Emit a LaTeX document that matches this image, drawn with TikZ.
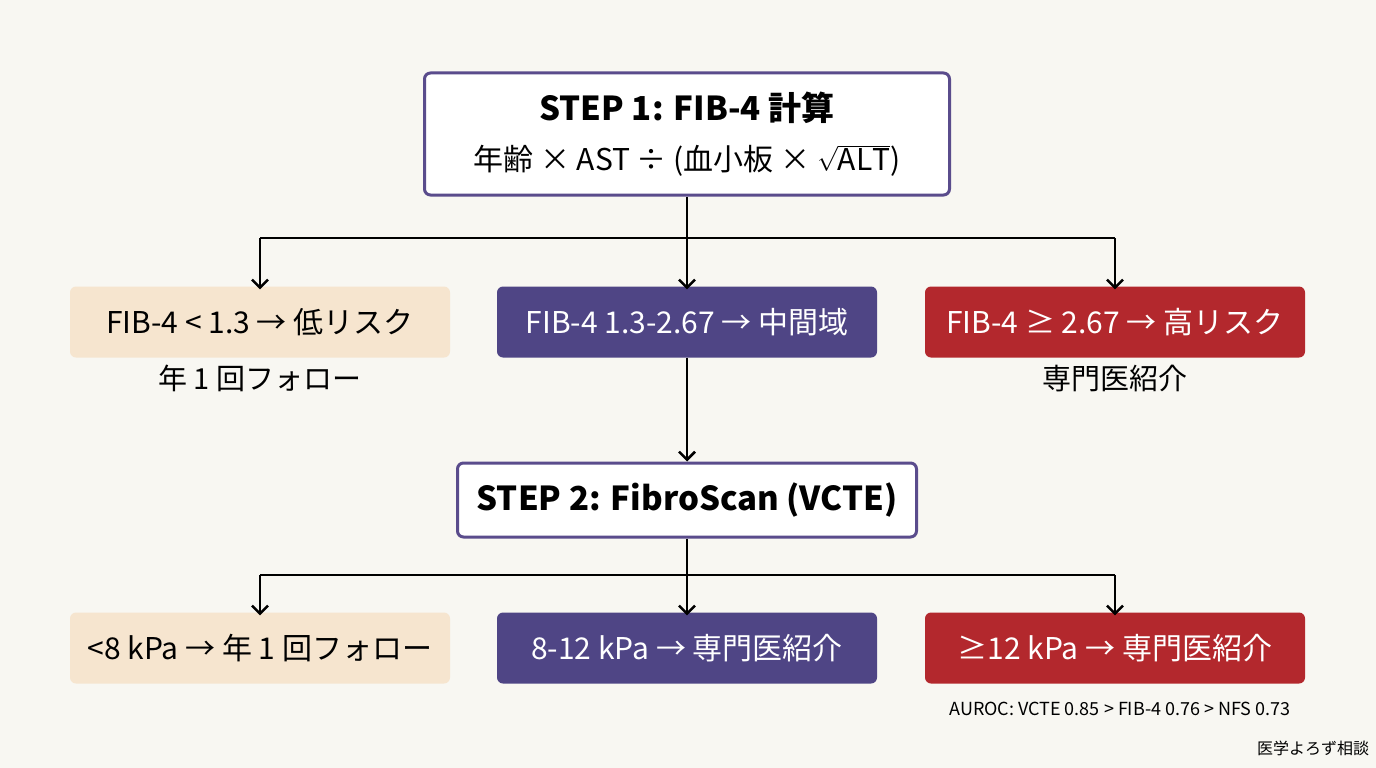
\documentclass[tikz,border=0pt]{standalone}
\usepackage{fontspec}
\setmainfont{Noto Sans CJK JP}
\usetikzlibrary{positioning,arrows.meta}
\definecolor{bgc}{HTML}{F8F7F2}
\definecolor{frame}{HTML}{5A4C8C}
\definecolor{lowc}{HTML}{F6E5CF}
\definecolor{midc}{HTML}{4F4585}
\definecolor{highc}{HTML}{B3282D}
\tikzset{
  stepbox/.style={draw=frame, line width=3pt, fill=white, rounded corners=6pt, align=center},
  res/.style={minimum width=380pt, minimum height=71pt, rounded corners=6pt, font=\fontsize{30}{34}\selectfont},
  low/.style={res, fill=lowc, text=black},
  mid/.style={res, fill=midc, text=white},
  high/.style={res, fill=highc, text=white},
  note/.style={font=\fontsize{29}{32}\selectfont},
  arr/.style={-{Straight Barb[length=8pt,width=16pt,line width=2.5pt]}, line width=2.5pt},
  ln/.style={line width=2.5pt}
}
\begin{document}
\begin{tikzpicture}[x=1pt,y=-1pt]
  \fill[bgc] (0,0) rectangle (1376,768);
  \useasboundingbox (0,0) rectangle (1376,768);

  % step 1
  \node[stepbox, minimum width=525pt, minimum height=122pt, font=\fontsize{33}{38}\selectfont] (s1) at (687,134)
    {\bfseries STEP 1: FIB-4 計算\\[12pt]
     \mdseries\fontsize{30}{34}\selectfont 年齢 × AST ÷ (血小板 × $\sqrt{\mathrm{ALT}}$)};

  \node[low]  (a1) at (260,322) {FIB-4 < 1.3 → 低リスク};
  \node[mid]  (a2) at (687,322) {FIB-4 1.3-2.67 → 中間域};
  \node[high] (a3) at (1115,322) {FIB-4 ≥ 2.67 → 高リスク};
  \node[note, below=4pt of a1] (n1) {年 1 回フォロー};
  \node[note, below=4pt of a3] (n3) {専門医紹介};

  \coordinate (j1) at (687,238);
  \draw[ln] (s1.south) -- (j1);
  \draw[ln] (a1.north |- j1) -- (a3.north |- j1);
  \foreach \t in {a1,a2,a3}
    \draw[arr] (\t.north |- j1) -- ([yshift=-3pt]\t.north);

  % step 2
  \node[stepbox, minimum width=459pt, minimum height=74pt, font=\fontsize{33}{38}\selectfont\bfseries] (s2) at (687,500)
    {STEP 2: FibroScan (VCTE)};
  \draw[arr] (a2.south) -- (s2.north);

  \node[low]  (b1) at (260,648) {<8 kPa → 年 1 回フォロー};
  \node[mid]  (b2) at (687,648) {8-12 kPa → 専門医紹介};
  \node[high] (b3) at (1115,648) {≥12 kPa → 専門医紹介};

  \coordinate (j2) at (687,575);
  \draw[ln] (s2.south) -- (j2);
  \draw[ln] (b1.north |- j2) -- (b3.north |- j2);
  \foreach \t in {b1,b2,b3}
    \draw[arr] (\t.north |- j2) -- ([yshift=-3pt]\t.north);

  \node[font=\fontsize{18}{22}\selectfont] (auc) at (1120,709) {AUROC: VCTE 0.85 > FIB-4 0.76 > NFS 0.73};
  \node[font=\fontsize{16}{20}\selectfont] (src) at (1313,748) {医学よろず相談};
\end{tikzpicture}
\end{document}
